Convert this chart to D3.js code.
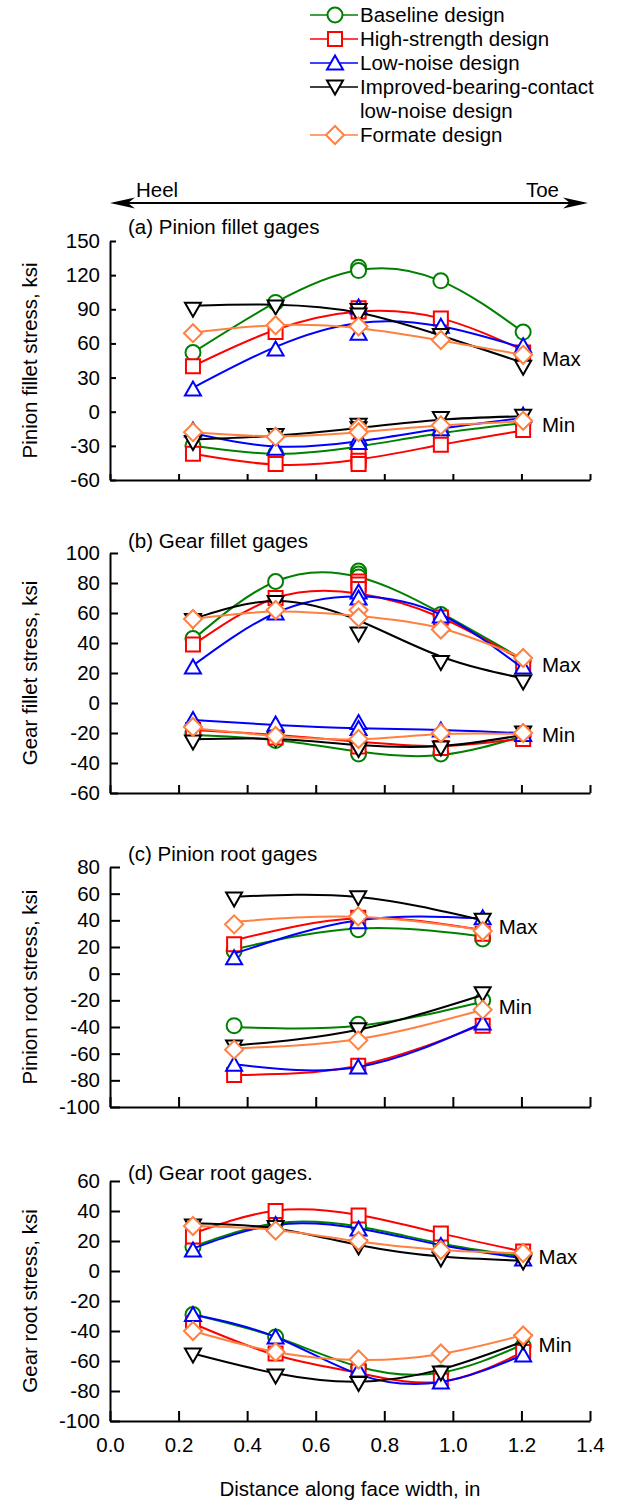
<!DOCTYPE html>
<html>
<head>
<meta charset="utf-8">
<script src="https://cdn.jsdelivr.net/npm/d3@7"></script>
<style>
  body { margin: 0; background: #fff; }
  text { font-family: "Liberation Sans", Arial, sans-serif; font-size: 20.5px; fill: #000; }
</style>
</head>
<body>
<svg width="618" height="1505"></svg>
<script>
// ---- data ----
const designs = ["Baseline design", "High-strength design", "Low-noise design",
  "Improved-bearing-contact", "Formate design"];
const colors = ["#008000", "#ff0000", "#0000ff", "#000000", "#ff8040"];
const shapes = ["circle", "square", "up", "down", "diamond"];

const xTicks = [0, 0.2, 0.4, 0.6, 0.8, 1.0, 1.2, 1.4];
const filletStations = [0.242, 0.483, 0.725, 0.965, 1.205];
const rootStations = [0.362, 0.724, 1.087];

// (a) pinion fillet: readings per station (markers) and trend values (curves)
const pinionFilletTicks = [-60, -30, 0, 30, 60, 90, 120, 150];
const pinionFilletMaxReadings = [
  [[52], [96], [127, 124], [115], [70]],
  [[40], [70], [91, 88], [82], [52]],
  [[20], [55], [92, 69], [75], [58]],
  [[90], [92], [89, 85], [67], [39]],
  [[69], [76], [75], [63], [50]]
];
const pinionFilletMaxFit = [
  [52, 96, 124.5, 115, 70],
  [40, 72, 88, 82, 54],
  [21, 57, 78, 75, 56],
  [93, 94, 87, 67, 43],
  [69.6, 76, 73.4, 62.6, 50]
];
const pinionFilletMinReadings = [
  [[-30], [-37], [-31], [-19], [-10]],
  [[-37], [-46], [-39, -43, -46], [-29], [-16]],
  [[-16], [-32], [-23, -27], [-15], [-3]],
  [[-27], [-21], [-12, -15], [-6], [-4]],
  [[-18], [-22], [-14, -18], [-12], [-8]]
];
const pinionFilletMinFit = [
  [-30, -37, -30.5, -19, -10],
  [-37, -46.5, -42, -29, -16.5],
  [-19, -30.5, -26, -15, -5.5],
  [-24.5, -21, -14.3, -7, -4],
  [-18, -21.6, -18, -12.2, -8.5]
];

// (b) gear fillet
const gearFilletTicks = [-60, -40, -20, 0, 20, 40, 60, 80, 100];
const gearFilletMaxReadings = [
  [[43], [81], [88, 86, 84], [59], [28]],
  [[39], [70], [81, 79, 76], [57], [25]],
  [[24], [60], [74, 70], [58], [24]],
  [[55], [67], [46], [27], [14]],
  [[56], [62], [62, 57], [49], [30]]
];
const gearFilletMaxFit = [
  [42.4, 81, 84, 60, 29],
  [38.7, 70, 73, 57, 28],
  [25, 60, 71, 59, 23],
  [56, 68, 55, 31, 16.4],
  [56, 61, 58, 49.8, 30]
];
const gearFilletMinReadings = [
  [[-20], [-25], [-34], [-34], [-22]],
  [[-18], [-23], [-29], [-30], [-24]],
  [[-11], [-14], [-13, -17], [-18], [-21]],
  [[-26], [-24], [-31], [-30], [-20]],
  [[-16], [-22], [-24], [-20], [-20]]
];
const gearFilletMinFit = [
  [-21.3, -24.7, -32.4, -34.7, -22],
  [-18, -21.3, -25.8, -28.7, -23.6],
  [-11.3, -14.7, -16.9, -18, -20.2],
  [-24.2, -24, -28, -28.7, -21.3],
  [-16.9, -22, -24.2, -20.7, -20.7]
];

// (c) pinion root
const pinionRootTicks = [-100, -80, -60, -40, -20, 0, 20, 40, 60, 80];
const pinionRootMaxReadings = [
  [[17], [33], [26]],
  [[22], [42], [30]],
  [[12], [39], [42]],
  [[56], [57], [40]],
  [[37], [43], [32]]
];
const pinionRootMaxFit = [
  [18.3, 33.9, 28],
  [25, 41.5, 32.6],
  [15, 40, 41.4],
  [57.7, 57.5, 40],
  [38.9, 42.6, 32.6]
];
const pinionRootMinReadings = [
  [[-39], [-38], [-20]],
  [[-76], [-69], [-39]],
  [[-68], [-70], [-37]],
  [[-55], [-42], [-15]],
  [[-57], [-50], [-27]]
];
const pinionRootMinFit = [
  [-40, -39, -21],
  [-76, -69, -38],
  [-68, -70, -37],
  [-54, -42, -16],
  [-56, -49, -27]
];

// (d) gear root
const gearRootTicks = [-100, -80, -60, -40, -20, 0, 20, 40, 60];
const gearRootMaxReadings = [
  [[16], [32], [30], [18], [10]],
  [[23], [40], [37], [25], [13]],
  [[14], [31], [28], [17], [8]],
  [[30], [29], [16], [8], [6]],
  [[30], [27], [20], [14], [12]]
];
const gearRootMaxFit = [
  [16.2, 31.8, 29.6, 18.4, 9.6],
  [25, 40.2, 37.3, 25.1, 12.9],
  [15, 30.7, 28.4, 17.3, 8.4],
  [31.8, 28.4, 17.3, 9.6, 6.9],
  [30, 27.3, 19.6, 14, 11.8]
];
const gearRootMinReadings = [
  [[-29], [-44], [-64], [-68], [-50]],
  [[-35], [-55], [-67], [-73], [-54]],
  [[-29], [-44], [-66], [-74], [-56]],
  [[-56], [-70], [-75], [-68], [-47]],
  [[-40], [-54], [-59], [-55], [-43]]
];
const gearRootMinFit = [
  [-29, -44, -63.8, -67.8, -49],
  [-35, -56, -68, -73.8, -54],
  [-29, -44, -68.9, -74, -56],
  [-55, -68.2, -73.8, -65.6, -47],
  [-40, -54, -59.3, -55.3, -42.7]
];

// ---- layout ----
const svg = d3.select("svg");
const left = 110, right = 590;
const x = d3.scaleLinear().domain([0, 1.4]).range([left, right]);

const panels = [
  { title: "(a) Pinion fillet gages", yTitle: "Pinion fillet stress, ksi",
    top: 241, bottom: 480, ticks: pinionFilletTicks, tick: 6, titleGap: 7,
    stations: filletStations,
    maxR: pinionFilletMaxReadings, maxF: pinionFilletMaxFit,
    minR: pinionFilletMinReadings, minF: pinionFilletMinFit,
    maxAt: [1.26, 46.5], minAt: [1.26, -11.4] },
  { title: "(b) Gear fillet gages", yTitle: "Gear fillet stress, ksi",
    top: 553, bottom: 793, ticks: gearFilletTicks, tick: 8, titleGap: 5,
    stations: filletStations,
    maxR: gearFilletMaxReadings, maxF: gearFilletMaxFit,
    minR: gearFilletMinReadings, minF: gearFilletMinFit,
    maxAt: [1.26, 25.3], minAt: [1.26, -21.3] },
  { title: "(c) Pinion root gages", yTitle: "Pinion root stress, ksi",
    top: 867, bottom: 1107, ticks: pinionRootTicks, tick: 10, titleGap: 6,
    stations: rootStations,
    maxR: pinionRootMaxReadings, maxF: pinionRootMaxFit,
    minR: pinionRootMinReadings, minF: pinionRootMinFit,
    maxAt: [1.134, 34.9], minAt: [1.134, -24.5] },
  { title: "(d) Gear root gages.", yTitle: "Gear root stress, ksi",
    top: 1181, bottom: 1421, ticks: gearRootTicks, tick: 10, titleGap: 1,
    stations: filletStations,
    maxR: gearRootMaxReadings, maxF: gearRootMaxFit,
    minR: gearRootMinReadings, minF: gearRootMinFit,
    maxAt: [1.25, 9.3], minAt: [1.25, -49.3], xLabels: true }
];

function markerPath(shape) {
  switch (shape) {
    case "circle": return "M7.5,0A7.5,7.5 0 1,1 -7.5,0A7.5,7.5 0 1,1 7.5,0Z";
    case "square": return "M-7,-7H7V7H-7Z";
    case "up": return "M0,-7.5L8,6.5H-8Z";
    case "down": return "M0,7.5L8,-6.5H-8Z";
    default: return "M0,-9L9,0L0,9L-9,0Z";
  }
}

function drawMarker(g, shape, color, cx, cy) {
  g.append("path")
    .attr("d", markerPath(shape))
    .attr("transform", `translate(${cx},${cy})`)
    .attr("fill", "#fff")
    .attr("stroke", color)
    .attr("stroke-width", 2);
}

panels.forEach(p => {
  const y = d3.scaleLinear()
    .domain([p.ticks[0], p.ticks[p.ticks.length - 1]])
    .range([p.bottom, p.top]);
  const g = svg.append("g");

  // axes
  const ya = g.append("g").attr("transform", `translate(${left},0)`)
    .call(d3.axisLeft(y).tickValues(p.ticks).tickSizeInner(-p.tick)
      .tickSizeOuter(0).tickPadding(10).tickFormat(d => String(d)));
  const xa = g.append("g").attr("transform", `translate(0,${p.bottom})`)
    .call(d3.axisBottom(x).tickValues(xTicks).tickSizeInner(-p.tick)
      .tickSizeOuter(0).tickPadding(16)
      .tickFormat(p.xLabels ? d3.format(".1f") : () => ""));
  [ya, xa].forEach(a => {
    a.selectAll("path, line").attr("stroke", "#000").attr("stroke-width", 2);
    a.selectAll("text").attr("font-size", null).attr("font-family", null);
  });

  g.append("text")
    .attr("x", 128).attr("y", p.top - p.titleGap)
    .text(p.title);

  g.append("text")
    .attr("transform", `translate(37,${(p.top + p.bottom) / 2}) rotate(-90)`)
    .attr("text-anchor", "middle")
    .text(p.yTitle);

  const line = d3.line()
    .x((d, i) => x(p.stations[i]))
    .y(d => y(d))
    .curve(d3.curveNatural);

  designs.forEach((name, k) => {
    const sg = g.append("g");
    [p.maxF[k], p.minF[k]].forEach(vals => {
      sg.append("path")
        .attr("d", line(vals))
        .attr("fill", "none")
        .attr("stroke", colors[k])
        .attr("stroke-width", 2);
    });
    [p.maxR[k], p.minR[k]].forEach(rows => {
      rows.forEach((readings, i) => {
        readings.forEach(v => drawMarker(sg, shapes[k], colors[k], x(p.stations[i]), y(v)));
      });
    });
  });

  g.append("text").attr("x", x(p.maxAt[0])).attr("y", y(p.maxAt[1]))
    .attr("dy", "0.35em").text("Max");
  g.append("text").attr("x", x(p.minAt[0])).attr("y", y(p.minAt[1]))
    .attr("dy", "0.35em").text("Min");
});

// x-axis title
svg.append("text")
  .attr("x", (left + right) / 2).attr("y", 1496)
  .attr("text-anchor", "middle")
  .text("Distance along face width, in");

// heel / toe arrow
const arrowY = 203;
svg.append("line")
  .attr("x1", left + 4).attr("x2", right - 6)
  .attr("y1", arrowY).attr("y2", arrowY)
  .attr("stroke", "#000").attr("stroke-width", 2);
svg.append("path")
  .attr("d", `M${left},${arrowY}L${left + 25},${arrowY - 5.5}L${left + 18},${arrowY}L${left + 25},${arrowY + 5.5}Z`);
svg.append("path")
  .attr("d", `M${right - 2},${arrowY}L${right - 27},${arrowY - 5.5}L${right - 20},${arrowY}L${right - 27},${arrowY + 5.5}Z`);
svg.append("text").attr("x", 136).attr("y", 197).text("Heel");
svg.append("text").attr("x", 559).attr("y", 197).attr("text-anchor", "end").text("Toe");

// legend
const legendRows = [15, 39, 63, 87, 135];
const legend = svg.append("g");
designs.forEach((name, k) => {
  const cy = legendRows[k];
  legend.append("line")
    .attr("x1", 310).attr("x2", 358).attr("y1", cy).attr("y2", cy)
    .attr("stroke", colors[k]).attr("stroke-width", 1.6);
  drawMarker(legend, shapes[k], colors[k], 335, cy);
  legend.append("text").attr("x", 360).attr("y", cy + 7).text(name);
});
legend.append("text").attr("x", 360).attr("y", 111 + 7).text("low-noise design");
</script>
</body>
</html>
